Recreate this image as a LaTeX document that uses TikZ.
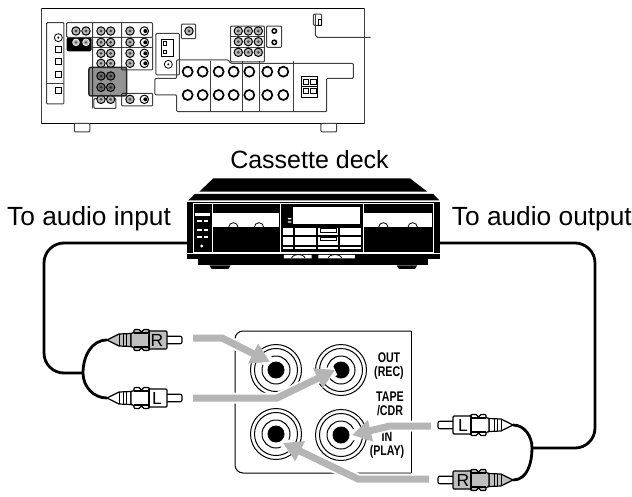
\documentclass[tikz,border=0pt]{standalone}
\usepackage{fontspec}
\setmainfont{Liberation Sans}
\usetikzlibrary{arrows.meta}

\definecolor{arrowgray}{gray}{0.71}
\definecolor{panelgray}{gray}{0.25}

% one phono plug, #1 name, #2 cable end, #3 direction, #4 fill, #5 letter
\newcommand{\rcaplug}[5]{%
	\coordinate (#1tip) at (#2);
	\begin{scope}[shift={(#2)},xscale=#3]
	\path[plugline,fill=white,rounded corners=2pt] (58,-3.8) -- (75,-3.8) -- (75,3.8) -- (58,3.8) -- cycle;
	\path[plugline,fill=#4] (0,0) -- (9,-4.5) -- (12,-6) -- (24,-6.5) -- (24,6.5) -- (12,6) -- (9,4.5) -- cycle;
	\draw[line width=.8pt] (12,-6) -- (12,6) (16,-6) -- (16,6) (19,-6) -- (19,6);
	\path[plugline,fill=#4,rounded corners=1pt] (24,-7) -- (27,-7) -- (27,-10.5) -- (33,-10.5) -- (33,-8.5) -- (36,-8.5) -- (36,-10.5) -- (42,-10.5) -- (42,-9)
		-- (60,-9) -- (60,9) -- (42,9) -- (42,10.5) -- (36,10.5) -- (36,8.5) -- (33,8.5) -- (33,10.5) -- (27,10.5) -- (27,7) -- (24,7) -- cycle;
	\path[plugline] (42,-9) -- (42,9) (27,-7) -- (42,-7) (27,7) -- (42,7);
	\node[pluglabel] (#1) at (50,0.5) {#5};
	\end{scope}}

\begin{document}
\begin{tikzpicture}[x=1pt, y=-1pt, >=stealth]
	\tikzstyle{caption} = [inner sep=0pt, font=\fontsize{25}{26}\selectfont]
	\tikzstyle{sidelabel} = [inner sep=0pt, font=\fontsize{26.3}{27}\selectfont]
	\tikzstyle{panellabel} = [inner sep=0pt, align=center, xscale=.76, transform shape, font=\bfseries\fontsize{14}{14}\selectfont]
	\tikzstyle{pluglabel} = [inner sep=0pt, font=\fontsize{17.5}{18}\selectfont]
	\tikzstyle{plugline} = [draw, line width=1.2pt, line join=round]
	\tikzstyle{cable} = [draw, line width=2.8pt]
	\tikzstyle{socket} = [draw, line width=1pt]
	\tikzstyle{hookup} = [draw=arrowgray, line width=7pt, line join=miter, -{Triangle[length=19pt,width=21pt]},
		preaction={draw=white, line width=11pt, -}]
	\tikzstyle{outline} = [draw=panelgray, line width=1pt, rounded corners=1pt]
	\tikzstyle{smalljack} = [draw, fill=gray!55, line width=1pt]

	\useasboundingbox (0,0) rectangle (632,496);

	% receiver, in thirds of a pixel
	\begin{scope}[shift={(20,0)}, x=.3333pt, y=-.3333pt]
	\draw[panelgray, line width=1pt] (66,25) rectangle (1033,370);
	\draw[black, line width=1.1pt] (66,25) -- (1033,25) (66,370) -- (1033,370);
	\draw[outline] (163,370) rectangle (210,396);
	\draw[outline] (903,370) rectangle (950,396);

	\draw[outline] (80,68) rectangle (132,312);
	\draw[outline] (80,250) -- (132,250);
	\draw[line width=.8pt] (115,113) circle (4pt);
	\fill (115,113) circle (1.1pt);
	\foreach \y in {148,184,222,270}
		\draw[line width=.8pt] (106,\y-9) rectangle (124,\y+9);

	\fill[rounded corners=2pt] (140,112) rectangle (215,154);
	\draw[outline] (140,68) rectangle (398,112);
	\draw[outline] (218,68) -- (218,325) (305,68) -- (305,210) -- (398,210) -- (398,112);
	\draw[outline] (218,144) -- (398,144);
	\draw[outline] (222,295) rectangle (288,325);
	\draw[outline] (305,280) rectangle (398,318);

	\foreach \x in {168,198,243,272,330} \foreach \y in {93} {
		\draw[smalljack] (\x,\y) circle (4.2pt);
		\fill[black!70] (\x,\y) circle (1.6pt);
	}
	\foreach \x in {243,272,330} \foreach \y in {127,160,190,298} {
		\draw[smalljack] (\x,\y) circle (4.2pt);
		\fill[black!70] (\x,\y) circle (1.6pt);
	}
	\foreach \x in {168,198} {
		\draw[draw=white, fill=gray!55, line width=.6pt] (\x,127) circle (3.4pt);
		\fill[black!70] (\x,127) circle (1.3pt);
	}
	\foreach \y in {93,127,160,190,298} {
		\draw[fill=white, line width=1pt] (373,\y) circle (4.2pt);
		\fill (376,\y) circle (2pt);
	}
	\foreach \x in {243,272} \foreach \y in {228,262} {
		\draw[smalljack] (\x,\y) circle (4.2pt);
		\fill[black!70] (\x,\y) circle (1.6pt);
	}
	\fill[black, opacity=.42] (207,202) rectangle (320,288);
	\draw[line width=1.5pt, rounded corners=2pt, black!85] (207,202) rectangle (320,288);

	\draw[outline] (484,72) rectangle (527,116);
	\draw[smalljack] (507,93) circle (4.2pt);
	\fill[black!70] (507,93) circle (1.6pt);
	\draw[outline] (408,100) -- (478,100) -- (478,225) -- (408,225) -- cycle;
	\draw[line width=.8pt] (425,118) rectangle (461,168);
	\draw[line width=.7pt] (431,124) rectangle (440,136);
	\draw[line width=.7pt] (431,150) rectangle (440,160);
	\draw[line width=.8pt] (445,193) circle (4pt);
	\fill (445,193) circle (1.1pt);

	\draw[outline] (632,78) rectangle (733,186);
	\draw[outline] (632,110) -- (733,110) (632,142) -- (733,142);
	\draw[outline] (740,78) rectangle (785,142);
	\foreach \x in {655,685,715} \foreach \y in {93,125,157} {
		\draw[smalljack] (\x,\y) circle (4.2pt);
		\fill[black!70] (\x,\y) circle (1.6pt);
	}
	\foreach \y in {93,127}
		\draw[line width=1.5pt] (763,\y) circle (2.2pt);

	\draw[outline] (470,180) -- (625,180) -- (632,190) -- (1000,190) -- (1000,235) -- (920,235) -- (920,335) -- (470,335)
		-- (470,285) -- (405,285) -- (405,235) -- (470,235) -- cycle;
	\foreach \x in {572,667,718,822}
		\draw[outline] (\x,182) -- (\x,335);
	\foreach \x in {503,548,596,641,688,742,790} \foreach \y in {215,285}
		\draw[line width=1.7pt] (\x,\y) circle (5pt);
	\draw[line width=.8pt, fill=white] (845,228) rectangle (892,292);
	\foreach \x in {858,880} \foreach \y in {246,272}
		\draw[line width=.7pt] (\x-8,\y-8) rectangle (\x+8,\y+8);
	\draw[line width=1.1pt] (845,259) -- (892,259);

	\draw[outline] (880,42) rectangle (905,76);
	\draw[line width=.8pt] (895,58) rectangle (903,76);
	\draw[panelgray, line width=1.1pt] (886,42) -- (886,105) -- (892,112) -- (1052,112);
	\end{scope}

	% deck, in thirds of a pixel
	\begin{scope}[shift={(160,140)}, x=.3333pt, y=-.3333pt]
	\fill (160,115) -- (750,115) -- (802,155) -- (118,155) -- cycle;
	\fill (105,162) -- (820,162) -- (838,181) -- (85,181) -- cycle;
	\fill (80,185) rectangle (840,358);
	\fill (115,358) rectangle (805,376);
	\fill (148,376) -- (212,376) -- (205,387) -- (155,387) -- cycle;
	\fill (710,376) -- (772,376) -- (765,387) -- (717,387) -- cycle;
	\draw[white, line width=.8pt] (101,191) rectangle (820,336);
	\draw[white, line width=.8pt] (157,191) -- (157,336) (360,191) -- (360,336) (610,191) -- (610,336);
	\draw[white, line width=.8pt] (80,340) -- (840,340);
	\fill[white] (105,218) rectangle (150,228);
	\foreach \y in {244,270,292} {
		\fill[white] (110,\y-3) rectangle (125,\y+3);
		\fill[white] (133,\y-3) rectangle (145,\y+3);
	}
	\fill[white] (125,318) circle (1.6pt);
	\foreach \a/\b in {160/358,612/815}
		\fill[white] (\a,218) rectangle (\b,262);
	\foreach \x in {220,297,670,758}
		\draw[line width=.8pt] (\x-14,262) arc (180:360:14 and 14);
	\fill[white] (400,200) rectangle (600,252);
	\fill[white] (384,234) rectangle (394,238) (384,244) rectangle (394,248);
	\foreach \a/\b in {368/400,404/468,474/535,540/602} {
		\fill[white] (\a,265) rectangle (\b,284);
		\fill[white] (\a,290) rectangle (\b,315);
		\fill[white] (\a,320) rectangle (\b,328);
	}
	\draw[line width=.7pt] (480,266) rectangle (530,276) (480,291) rectangle (530,301);
	\fill[white] (372,345) rectangle (455,355) (475,345) rectangle (585,355);
	\foreach \x in {415,525}
		\draw[line width=.8pt] (\x-20,355) arc (180:360:20 and 11);
	\end{scope}

	\node[caption] (decktitle) at (309.5,160) {Cassette deck};
	\node[sidelabel, anchor=west] (inputlabel) at (7,219) {To audio input};
	\node[sidelabel, anchor=east] (outputlabel) at (632,219) {To audio output};

	\coordinate (deckleft) at (187,243);
	\coordinate (deckright) at (440,243);
	\coordinate (splitleft) at (83,373);
	\coordinate (splitright) at (532,448);

	% plugs
	\rcaplug{plugr}{107,340}{1}{gray!50}{R}
	\rcaplug{plugl}{107,398}{1}{white}{L}
	\rcaplug{socketl}{513,425}{-1}{white}{L}
	\rcaplug{socketr}{513,480}{-1}{gray!50}{R}

	% cables
	\path[cable, rounded corners=20pt] (deckleft) -- (44,243) -- (44,373) -- (splitleft);
	\path[cable, rounded corners=20pt] (deckright) -- (595,243) -- (595,448) -- (splitright);
	\path[cable] (plugrtip) to[out=180, in=90] (splitleft);
	\path[cable] (plugltip) to[out=180, in=-90] (splitleft);
	\path[cable] (socketltip) to[out=0, in=90] (splitright);
	\path[cable] (socketrtip) to[out=0, in=-90] (splitright);

	% jack panel
	\draw[line width=1pt, rounded corners=8pt] (411,331) -- (235,331) -- (235,473) -- (411,473);
	\draw[line width=1pt] (411,331) -- (411,473);
	\foreach \x/\y/\n in {276/370/jackr, 341/370/jackrr, 276/434/jackl, 341/435/jackll} {
		\coordinate (\n) at (\x,\y);
		\draw[socket] (\n) circle (25.5pt);
		\draw[socket] (\n) circle (21.5pt);
		\draw[socket] (\n) circle (14pt);
		\fill (\n) circle (8.5pt);
	}

	\node[panellabel] (outtext) at (389,366.5) {OUT\\(REC)};
	\node[panellabel] (tapetext) at (390,404) {TAPE\\/CDR};
	\node[panellabel] (intext) at (387,445.5) {IN\\(PLAY)};

	% hookup arrows
	\coordinate (startr) at (193,338);
	\coordinate (startl) at (193,398);
	\coordinate (startll) at (431,426);
	\coordinate (startrr) at (429,479);
	\path[hookup] (startr) -- (222,338) -- (270,362);
	\path[hookup] (startl) -- (277,398) -- (335,370);
	\path[hookup] (startll) -- (390,426) -- (352,435);
	\path[hookup] (startrr) -- (358,479) -- (283,443);
\end{tikzpicture}
\end{document}
